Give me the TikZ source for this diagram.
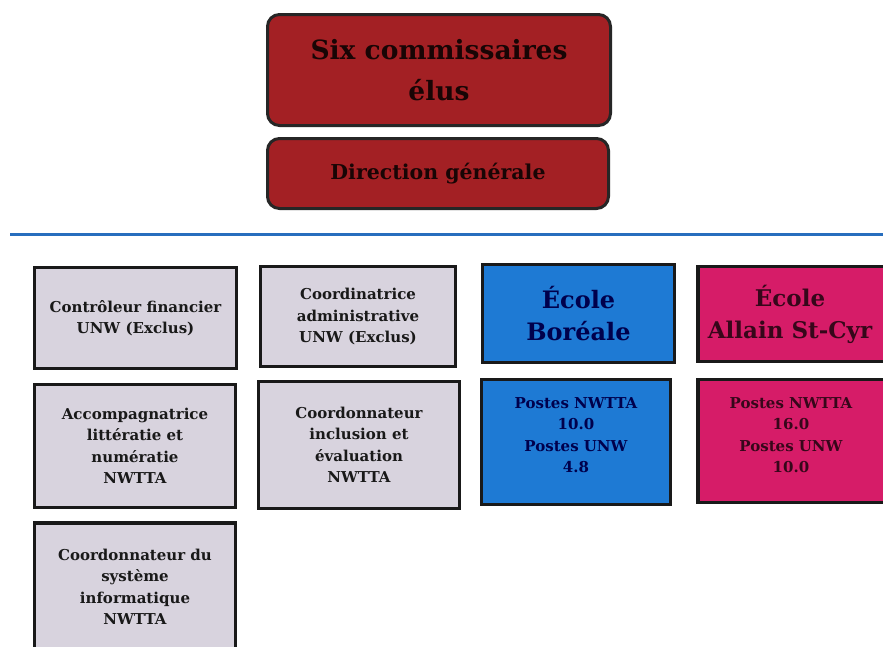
\documentclass[tikz,border=0pt]{standalone}
\usepackage{fontspec}
\setmainfont{DejaVu Serif}
\definecolor{dred}{RGB}{163,32,36}
\definecolor{lgrey}{RGB}{216,211,222}
\definecolor{sblue}{RGB}{30,122,212}
\definecolor{smag}{RGB}{214,28,104}
\definecolor{lineblue}{RGB}{40,110,190}
\begin{document}
\begin{tikzpicture}[x=1pt,y=-1pt,
  redbox/.style={draw=black!85, line width=3pt, fill=dred, rounded corners=12pt, inner sep=0pt, text=black!85!dred, font=\bfseries, align=center},
  greybox/.style={draw=black!90, line width=3.5pt, fill=lgrey, inner sep=0pt, text=black!90, font=\bfseries\fontsize{15}{21.5}\selectfont, align=center},
  schoolbox/.style={draw=black!90, line width=3.5pt, inner sep=0pt, align=center, font=\bfseries},
  postestext/.style={inner sep=0pt, align=center, font=\bfseries\fontsize{15}{21.5}\selectfont}]
\useasboundingbox (0,0) rectangle (883,646);
\fill[white] (0,0) rectangle (883,646);
% top
\node[redbox, minimum width=343pt, minimum height=111pt, font=\bfseries\fontsize{26.5}{41}\selectfont] (six) at (439,70) {Six commissaires\\élus};
\node[redbox, minimum width=341pt, minimum height=70pt, font=\bfseries\fontsize{20.5}{26}\selectfont] (dg) at (438,173.5) {Direction générale};
% separator
\coordinate (la) at (10,234.5);
\coordinate (lb) at (883,234.5);
\draw[lineblue, line width=2.8pt] (la) -- (lb);
% column 1
\node[greybox, minimum width=202pt, minimum height=101pt] (cf) at (135.5,318) {Contrôleur financier\\UNW (Exclus)};
\node[greybox, minimum width=201pt, minimum height=123pt] (acc) at (135,446) {Accompagnatrice\\littératie et\\numératie\\NWTTA};
\node[greybox, minimum width=201pt, minimum height=128pt] (csi) at (135,587) {Coordonnateur du\\système\\informatique\\NWTTA};
% column 2
\node[greybox, minimum width=195pt, minimum height=100pt] (ca) at (358,316.5) {Coordinatrice\\administrative\\UNW (Exclus)};
\node[greybox, minimum width=201pt, minimum height=127pt] (cie) at (359,445) {Coordonnateur\\inclusion et\\évaluation\\NWTTA};
% column 3
\node[schoolbox, fill=sblue, text=black!70!blue, minimum width=192pt, minimum height=98pt, font=\bfseries\fontsize{24}{32}\selectfont] (eb) at (578.5,313.5) {École\\Boréale};
\node[schoolbox, fill=sblue, minimum width=189pt, minimum height=125pt] (pb) at (576,442) {};
\node[postestext, text=black!70!blue] (pbt) at (576,435) {Postes NWTTA\\10.0\\Postes UNW\\4.8};
% column 4
\node[schoolbox, fill=smag, minimum width=194pt, minimum height=95pt] (ea) at (795,314) {};
\node[text=black!75!smag, inner sep=0pt, align=center, font=\bfseries\fontsize{23}{32}\selectfont] (eat) at (790,314) {École\\Allain St-Cyr};
\node[schoolbox, fill=smag, minimum width=194pt, minimum height=123pt] (pa) at (795,441) {};
\node[postestext, text=black!75!smag] (pat) at (791,435) {Postes NWTTA\\16.0\\Postes UNW\\10.0};
\end{tikzpicture}
\end{document}
